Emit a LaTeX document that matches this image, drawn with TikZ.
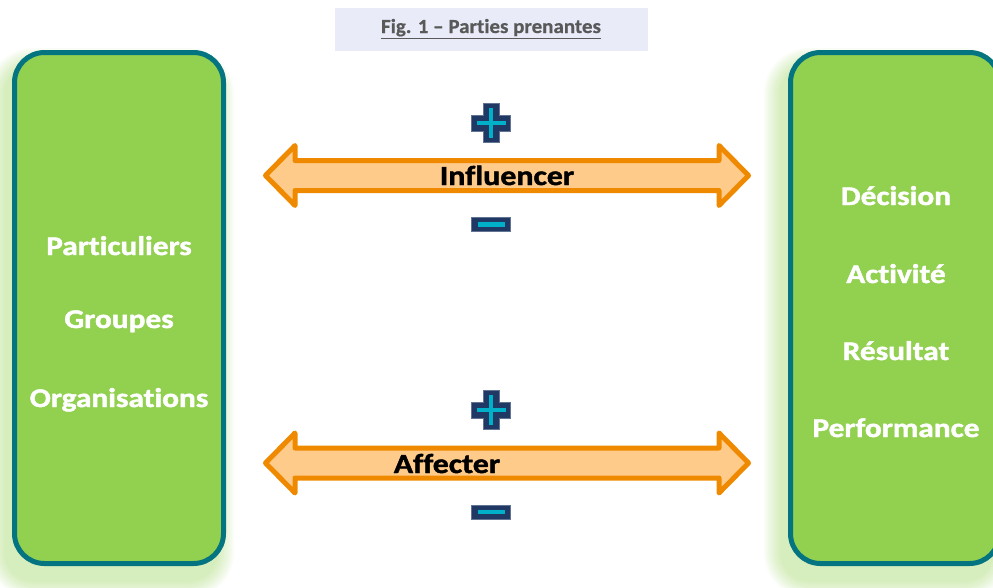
\documentclass[tikz,border=0pt]{standalone}
\usepackage{fontspec}
\setmainfont[Ligatures=NoCommon]{Carlito}
\newfontfamily\widefont[Ligatures=NoCommon,FakeStretch=1.16,FakeBold=1.6]{Carlito}
\newfontfamily\titlefont[Ligatures=NoCommon,FakeStretch=1.05,FakeBold=0.6]{Carlito}
\usepackage{xcolor}
\definecolor{boxgreen}{HTML}{92D050}
\definecolor{boxedge}{HTML}{047480}
\definecolor{shadowgreen}{HTML}{92D050}
\definecolor{arroworange}{HTML}{EF8A00}
\definecolor{arrowfill}{HTML}{FFCB8B}
\definecolor{titlebg}{HTML}{E9ECF8}
\definecolor{titletext}{HTML}{595959}
\definecolor{signdark}{HTML}{1F3864}
\definecolor{signlight}{HTML}{00B0C8}
\tikzset{
  sidebox/.style={draw=boxedge, line width=5pt, fill=boxgreen, rounded corners=30pt,
    minimum width=209pt, minimum height=511pt, inner sep=0pt},
  boxtext/.style={text=white, font=\widefont\fontsize{27}{27}\selectfont\bfseries, anchor=base, inner sep=0pt},
  arrowlabel/.style={text=black, font=\widefont\fontsize{27.5}{27.5}\selectfont\bfseries, anchor=base, inner sep=0pt},
  dblarrow/.style={draw=arroworange, line width=5pt, line join=round, fill=arrowfill},
  signouter/.style={fill=signdark, draw=signdark!70!white, line width=0.6pt},
  signinner/.style={draw=signlight, line width=4.5pt},
}
\begin{document}
\begin{tikzpicture}[x=1pt,y=-1pt]
\useasboundingbox (0,0) rectangle (993,587);
\clip (0,0) rectangle (993,587);
% shadows
\foreach \cx in {119,895}{
  \foreach \k in {0,2,...,16}{
    \fill[shadowgreen, opacity=0.05, rounded corners={30+\k}]
      ({\cx-107-8-\k},{50+14-\k}) rectangle ({\cx+107-8+\k},{566+16+\k});
  }
}
% title
\node[fill=titlebg, minimum width=313pt, minimum height=43pt, inner sep=0pt] (title) at (491.5,29.5) {};
\node[anchor=base, inner sep=0pt, text=titletext, font=\titlefont\fontsize{20}{20}\selectfont\bfseries] (titletxt) at (491,33) {\underline{Fig. 1 – Parties prenantes}};
% boxes
\node[sidebox] (left) at (119,308) {};
\node[sidebox] (right) at (895,308) {};
\node[boxtext] (t1) at (119,255) {Particuliers};
\node[boxtext] (t2) at (119,328) {Groupes};
\node[boxtext] (t3) at (119,407) {Organisations};
\node[boxtext] (r1) at (896,205) {Décision};
\node[boxtext] (r2) at (896,283) {Activité};
\node[boxtext] (r3) at (896,360) {Résultat};
\node[boxtext] (r4) at (896,437) {Performance};
% arrows
\foreach \m/\nm in {175.5/influ,463/affec}{
  \draw[dblarrow] (265.5,\m) -- (295,{\m-30}) -- (295,{\m-15}) -- (719,{\m-15}) -- (719,{\m-30})
    -- (748.5,\m) -- (719,{\m+30}) -- (719,{\m+15}) -- (295,{\m+15}) -- (295,{\m+30}) -- cycle;
  \coordinate (\nm) at (507,\m);
}
\node[arrowlabel] (lab1) at (507,185) {Influencer};
\node[arrowlabel] (lab2) at (447,473) {Affecter};
% plus and minus signs
\foreach \cy/\nm in {123/p1,410/p2}{
  \fill[signouter] (483,{\cy-19.5}) -- (499,{\cy-19.5}) -- (499,{\cy-8}) -- (510.5,{\cy-8}) -- (510.5,{\cy+8})
    -- (499,{\cy+8}) -- (499,{\cy+19.5}) -- (483,{\cy+19.5}) -- (483,{\cy+8}) -- (471.5,{\cy+8})
    -- (471.5,{\cy-8}) -- (483,{\cy-8}) -- cycle;
  \draw[signinner] (491,{\cy-15}) -- (491,{\cy+15});
  \draw[signinner] (476.5,\cy) -- (505.5,\cy);
  \coordinate (\nm) at (491,\cy);
}
\foreach \cy/\nm in {224.5/m1,512/m2}{
  \fill[signouter] (471.5,{\cy-7}) rectangle (510.5,{\cy+7});
  \draw[signinner] (477.5,\cy) -- (504.5,\cy);
  \coordinate (\nm) at (491,\cy);
}
\end{tikzpicture}
\end{document}
